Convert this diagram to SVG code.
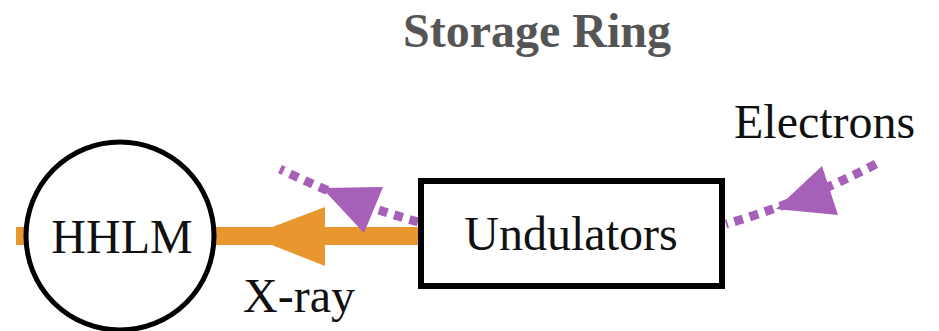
<svg xmlns="http://www.w3.org/2000/svg" width="939" height="331" viewBox="0 0 939 331">
<style>
.t{font-family:'Liberation Serif','Tinos','DejaVu Serif',serif;font-size:48px;fill:#111}
.title{font-family:'Liberation Serif','Tinos','DejaVu Serif',serif;font-size:48px;font-weight:bold;fill:#555}
.e{fill:none;stroke:#a660b8;stroke-width:9;stroke-dasharray:9 7}
.eh{fill:#a660b8}
.x{stroke:#e8962e;stroke-width:18;fill:none}
.xh{fill:#e8962e}
.node{fill:#fff;stroke:#000}
</style>
<rect width="939" height="331" fill="#fff"/>
<text class="title" x="537" y="47" text-anchor="middle">Storage Ring</text>
<g id="connectors">
  <line class="x" x1="16" y1="236" x2="421" y2="236"/>
  <polygon class="xh" points="249,236 325,207 325,266"/>
  <path class="e" d="M418 222 Q350 203 280 169"/>
  <polygon class="eh" points="322,188 383,187 364,233"/>
  <path class="e" d="M876 164 Q800 203 726 224"/>
  <polygon class="eh" points="776,209 822,166 838,215"/>
  <text class="t" x="243" y="312">X-ray</text>
  <text class="t" x="734" y="138">Electrons</text>
</g>
<g id="hhlm">
  <circle class="node" cx="120" cy="236" r="94" stroke-width="5"/>
  <text class="t" x="122" y="253" text-anchor="middle">HHLM</text>
</g>
<g id="undulators">
  <rect class="node" x="421" y="181" width="301" height="105" stroke-width="6"/>
  <text class="t" x="571" y="250" text-anchor="middle">Undulators</text>
</g>
</svg>
